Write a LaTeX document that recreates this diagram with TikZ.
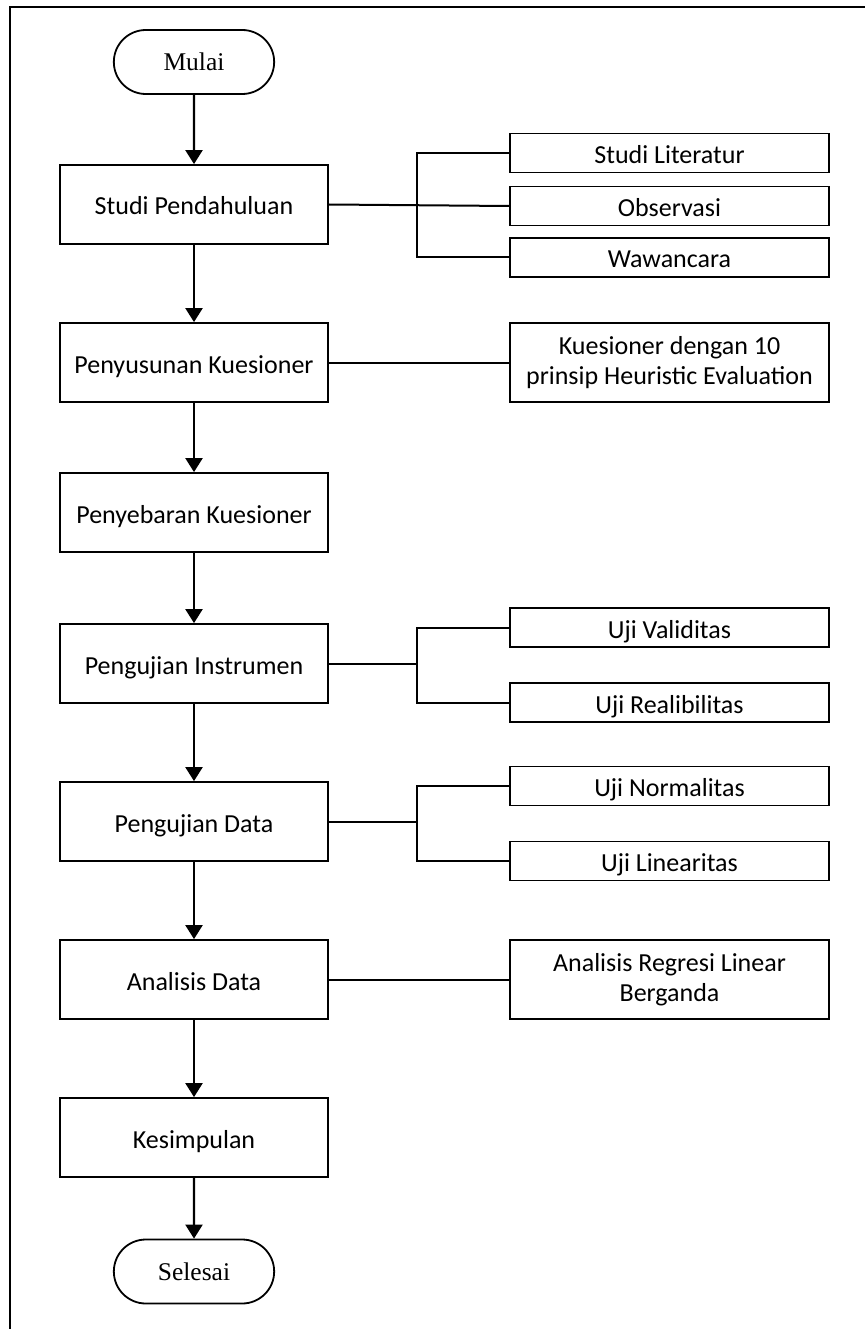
\documentclass[tikz,border=0pt]{standalone}
\usepackage{fontspec}
\setmainfont{Carlito}
\newfontfamily\termfont{Liberation Serif}
\usetikzlibrary{shapes.misc,arrows.meta}

\tikzset{
  proses/.style={draw, line width=1.8pt, minimum width=268pt, minimum height=79pt, text height=21pt, text depth=0pt, font=\fontsize{26}{30}\selectfont},
  rincian/.style={draw, line width=1.8pt, minimum width=319pt, minimum height=39pt, text height=21pt, text depth=0pt, font=\fontsize{26}{30}\selectfont},
  rincian2/.style={draw, line width=1.8pt, minimum width=319pt, minimum height=79pt, align=center, font=\fontsize{26}{30}\selectfont},
  terminal/.style={draw, line width=1.8pt, rounded rectangle, minimum width=167pt, minimum height=64pt, font=\fontsize{25.5}{30}\termfont},
  alur/.style={line width=2.2pt, -{Triangle[width=17pt,length=14pt]}},
  garis/.style={line width=2pt}
}

\begin{document}
\begin{tikzpicture}[x=1pt, y=-1pt]
\useasboundingbox (0,0) rectangle (865,1329);
\draw[line width=2pt] (10,1329) -- (10,7) -- (865,7);

% alur utama
\node[terminal] (mulai) at (194,62) {Mulai};
\node[proses] (studi) at (194,204.5) {Studi Pendahuluan};
\node[proses] (susun) at (194,362.5) {Penyusunan Kuesioner};
\node[proses] (sebar) at (194,512.5) {Penyebaran Kuesioner};
\node[proses] (instrumen) at (194,663.5) {Pengujian Instrumen};
\node[proses] (data) at (194,821.5) {Pengujian Data};
\node[proses] (analisis) at (194,979.5) {Analisis Data};
\node[proses] (simpul) at (194,1137.5) {Kesimpulan};
\node[terminal] (selesai) at (194,1271.5) {Selesai};

\draw[alur] (mulai) -- (studi);
\draw[alur] (studi) -- (susun);
\draw[alur] (susun) -- (sebar);
\draw[alur] (sebar) -- (instrumen);
\draw[alur] (instrumen) -- (data);
\draw[alur] (data) -- (analisis);
\draw[alur] (analisis) -- (simpul);
\draw[alur] (simpul) -- (selesai);

% rincian kanan
\coordinate (cab) at (417,0);
\node[rincian] (literatur) at (669.5,153) {Studi Literatur};
\node[rincian] (observasi) at (669.5,206) {Observasi};
\node[rincian] (wawancara) at (669.5,257.5) {Wawancara};
\node[rincian2] (heuristik) at (669.5,362.5) {Kuesioner dengan 10\\prinsip Heuristic Evaluation};
\node[rincian] (validitas) at (669.5,627.5) {Uji Validitas};
\node[rincian] (reliabel) at (669.5,702.5) {Uji Realibilitas};
\node[rincian] (normal) at (669.5,786) {Uji Normalitas};
\node[rincian] (linear) at (669.5,861) {Uji Linearitas};
\node[rincian2] (regresi) at (669.5,979.5) {Analisis Regresi Linear\\Berganda};

\draw[garis] (studi.east) -- (observasi.west);
\draw[garis] (literatur.west) -- (literatur.west -| cab) |- (wawancara.west);
\draw[garis] (susun.east) -- (heuristik.west);
\draw[garis] (instrumen.east) -- (instrumen.east -| cab);
\draw[garis] (validitas.west) -- (validitas.west -| cab) |- (reliabel.west);
\draw[garis] (data.east) -- (data.east -| cab);
\draw[garis] (normal.west) -- (normal.west -| cab) |- (linear.west);
\draw[garis] (analisis.east) -- (regresi.west);
\end{tikzpicture}
\end{document}
